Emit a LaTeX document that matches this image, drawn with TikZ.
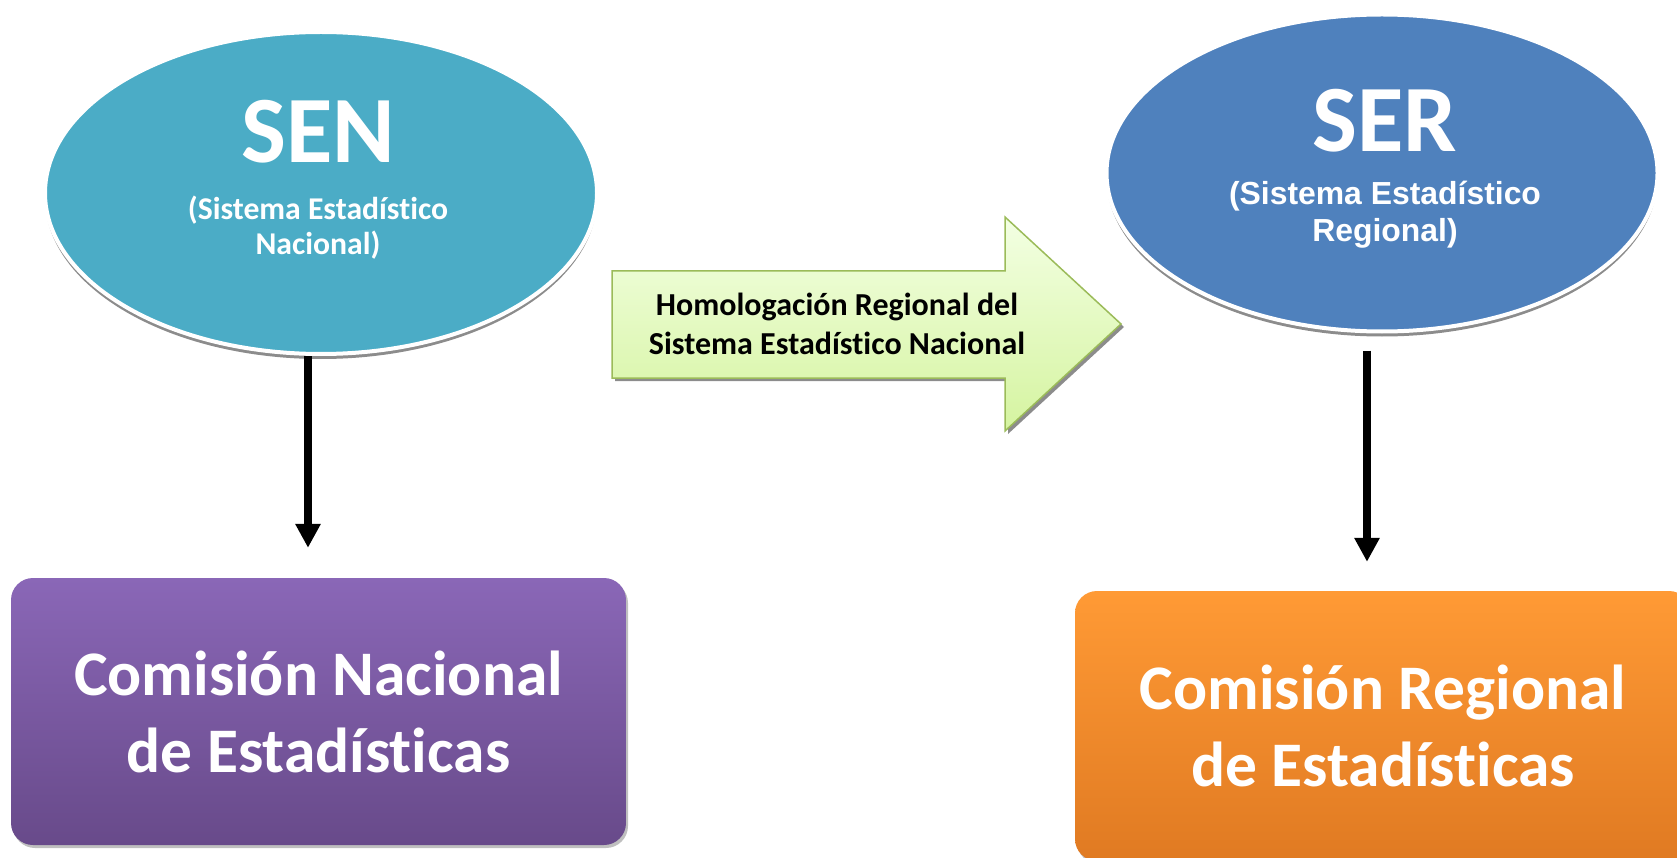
\documentclass[tikz,border=0pt]{standalone}
\usepackage{fontspec}
\setmainfont{Carlito}[Ligatures=NoCommon]
\newfontfamily\arialfont{Liberation Sans}
\usetikzlibrary{shapes.geometric}
\usetikzlibrary{shadows}
\usetikzlibrary{arrows.meta}
\definecolor{senazul}{HTML}{4BACC6}
\definecolor{serazul}{HTML}{4F81BD}
\definecolor{moradoalto}{HTML}{8A67B7}
\definecolor{moradobajo}{HTML}{684A8A}
\definecolor{naranjaalto}{HTML}{FF9A35}
\definecolor{naranjabajo}{HTML}{E07A22}
\definecolor{verdealto}{HTML}{F3FFE3}
\definecolor{verdebajo}{HTML}{D5F4A0}
\definecolor{verdeborde}{HTML}{9BBB59}

\begin{document}
\begin{tikzpicture}[x=1pt, y=-1pt,
        elipse/.style={ellipse, draw=white, line width=4pt, inner sep=0pt,
            drop shadow={shadow xshift=0pt, shadow yshift=-5pt, fill=black!45, opacity=1}},
        caja/.style={rectangle, rounded corners=22pt, align=center, text=white,
            font=\bfseries\fontsize{63.5}{77}\selectfont,
            drop shadow={shadow xshift=2pt, shadow yshift=-3pt, fill=black!50, opacity=.5}},
        titulo/.style={text=white, inner sep=0pt, font=\bfseries\fontsize{95}{100}\selectfont},
        subtitulo/.style={text=white, inner sep=0pt, align=center},
        flecha/.style={-{Triangle[width=24pt,length=24pt]}, line width=8pt, black}]
    \useasboundingbox (0,0) rectangle (1677,858);
    \clip (0,0) rectangle (1677,858);

    \node [elipse, fill=senazul, minimum width=552pt, minimum height=322pt] (sen) at (321,193) {};
    \node [elipse, fill=serazul, minimum width=551pt, minimum height=317pt] (ser) at (1382,173) {};

    \node [titulo, anchor=base] (sentit) at (318,163) {SEN};
    \node [subtitulo, font=\bfseries\fontsize{31.7}{35}\selectfont] (sensub) at (318,228)
        {(Sistema Estadístico\\Nacional)};
    \node [titulo, anchor=base] (sertit) at (1385,152) {SER};
    \node [subtitulo, font=\arialfont\bfseries\fontsize{31.9}{37}\selectfont] (sersub) at (1385,215)
        {(Sistema Estadístico\\Regional)};

    \draw [top color=verdealto, bottom color=verdebajo, draw=verdeborde, line width=1.5pt,
        drop shadow={shadow xshift=3pt, shadow yshift=-3pt, fill=black!45, opacity=1}]
        (612,271) -- (1005,271) -- (1005,217) -- (1121,324) -- (1005,431) -- (1005,378) -- (612,378) -- cycle;
    \node [align=center, inner sep=0pt, font=\bfseries\fontsize{32}{39}\selectfont] (homol) at (837,324)
        {Homologación Regional del\\Sistema Estadístico Nacional};

    \node [caja, top color=moradoalto, bottom color=moradobajo,
        minimum width=615pt, minimum height=267pt] (cne) at (318.5,711.5)
        {Comisión Nacional\\de Estadísticas};
    \node [caja, top color=naranjaalto, bottom color=naranjabajo,
        minimum width=616pt, minimum height=270pt] (cre) at (1383,726)
        {Comisión Regional\\de Estadísticas};

    \draw [flecha, shorten >=30pt] ([xshift=-13pt]sen.south) -- ([xshift=-10.5pt]cne.north);
    \draw [flecha, shorten <=17pt, shorten >=29pt] ([xshift=-15pt]ser.south) -- ([xshift=-16pt]cre.north);
\end{tikzpicture}
\end{document}
